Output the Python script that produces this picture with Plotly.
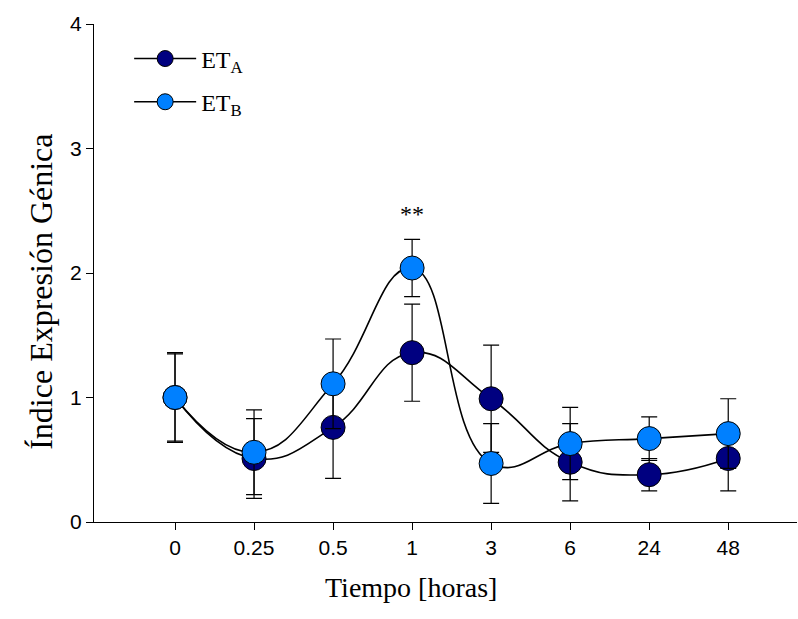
import plotly.graph_objects as go

categories = ["0", "0.25", "0.5", "1", "3", "6", "24", "48"]
et_a = [1.00, 0.51, 0.76, 1.36, 0.99, 0.48, 0.38, 0.51]
et_a_err = [0.36, 0.32, 0.41, 0.39, 0.43, 0.31, 0.13, 0.26]
et_b = [1.00, 0.56, 1.11, 2.04, 0.47, 0.63, 0.67, 0.71]
et_b_err = [0.35, 0.34, 0.36, 0.23, 0.32, 0.29, 0.175, 0.28]
y_ticks = [0, 1, 2, 3, 4]
sig_label = "**"
sig_index = 3
sig_y = 2.47

serif = "Liberation Serif"
sans = "Liberation Sans"

fig = go.Figure()
for name, vals, errs, col in [
    ("ET<sub>A</sub>", et_a, et_a_err, "#000080"),
    ("ET<sub>B</sub>", et_b, et_b_err, "#0080FF"),
]:
    fig.add_trace(go.Scatter(
        x=categories, y=vals, name=name, legendgroup=name, mode="lines+markers",
        line=dict(color="black", width=1.6, shape="spline", smoothing=1.3),
        marker=dict(size=24, color=col, line=dict(color="black", width=1)),
        error_y=dict(type="data", array=errs, visible=True, color="black",
                     thickness=1.2, width=8),
    ))

fig.add_annotation(x=sig_index, y=sig_y, text=sig_label,
                   showarrow=False, font=dict(family=serif, size=24, color="black"))
fig.add_annotation(xref="paper", yref="paper", x=0.451, y=-0.167,
                   text="Tiempo [horas]", showarrow=False,
                   font=dict(family=serif, size=28, color="black"))
fig.add_annotation(xref="paper", yref="paper", x=-0.104, y=0.462,
                   text="Índice Expresión Génica", textangle=-90, showarrow=False,
                   font=dict(family=serif, size=32, color="black"))

fig.update_layout(
    width=798, height=619,
    margin=dict(l=94, r=1, t=24, b=97),
    paper_bgcolor="white", plot_bgcolor="white",
    showlegend=True,
    legend=dict(x=0.05, y=0.975, xanchor="left", yanchor="top",
                font=dict(family=serif, size=24, color="black"),
                bgcolor="rgba(0,0,0,0)", itemwidth=62, tracegroupgap=9,
                itemsizing="trace"),
    xaxis=dict(type="category", categoryorder="array", categoryarray=categories,
               range=[-1.025, 7.87], showline=True, linecolor="black", linewidth=1.2,
               ticks="outside", ticklen=7, tickcolor="black", showgrid=False,
               zeroline=False, tickfont=dict(family=sans, size=21, color="black")),
    yaxis=dict(range=[0, 4], tickvals=y_ticks, showline=True, linecolor="black",
               linewidth=1.2, ticks="outside", ticklen=7, tickcolor="black",
               showgrid=False, zeroline=False,
               tickfont=dict(family=sans, size=21, color="black")),
)
fig.write_html("out.html")
